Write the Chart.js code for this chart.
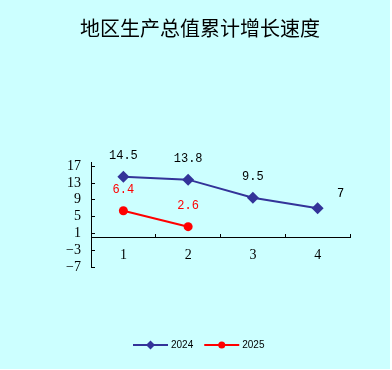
<!DOCTYPE html>
<html>
<head>
<meta charset="utf-8">
<script src="https://cdn.jsdelivr.net/npm/chart.js@4"></script>
<style>
  body { margin: 0; background: #fff; }
  #myChart { display: block; background: #ccffff; }
</style>
</head>
<body>
<canvas id="myChart" width="390" height="369"></canvas>
<script>
var title = "地区生产总值累计增长速度";
var categories = ["1", "2", "3", "4"];
var seriesNames = ["2024", "2025"];
var values2024 = [14.5, 13.8, 9.5, 7];
var values2025 = [6.4, 2.6, null, null];
var yTicks = [-7, -3, 1, 5, 9, 13, 17];

// value labels above the points
var valueLabels = {
    id: "valueLabels",
    afterDatasetsDraw(chart) {
        var ctx = chart.ctx;
        ctx.save();
        ctx.font = "12px 'Liberation Mono'";
        ctx.textAlign = "center";
        ctx.textBaseline = "middle";
        chart.data.datasets.forEach((ds, i) => {
            var meta = chart.getDatasetMeta(i);
            meta.data.forEach((pt, j) => {
                if (ds.data[j] == null) return;
                var dx = 0, dy = -21;
                if (i === 0 && j === 3) { dx = 23; dy = -14; }
                ctx.fillStyle = ds.labelColor;
                ctx.fillText(String(ds.data[j]), pt.x + dx, pt.y + dy);
            });
        });
        ctx.restore();
    }
};

// title + legend with line and marker
var decorations = {
    id: "decorations",
    afterDraw(chart) {
        var ctx = chart.ctx;
        ctx.save();
        ctx.fillStyle = "#000";
        ctx.font = "20px 'Noto Sans CJK SC'";
        ctx.textAlign = "center";
        ctx.textBaseline = "middle";
        ctx.fillText(title, 200, 28);

        var x = 133, y = 345;
        ctx.font = "10px 'Liberation Sans'";
        ctx.textAlign = "left";
        chart.data.datasets.forEach((ds) => {
            ctx.strokeStyle = ds.borderColor;
            ctx.lineWidth = 2;
            ctx.beginPath();
            ctx.moveTo(x, y);
            ctx.lineTo(x + 35, y);
            ctx.stroke();
            ctx.fillStyle = ds.borderColor;
            ctx.beginPath();
            if (ds.pointStyle === "rectRot") {
                ctx.moveTo(x + 17.5, y - 4.5);
                ctx.lineTo(x + 22, y);
                ctx.lineTo(x + 17.5, y + 4.5);
                ctx.lineTo(x + 13, y);
                ctx.closePath();
            } else {
                ctx.arc(x + 17.5, y, 3.5, 0, Math.PI * 2);
            }
            ctx.fill();
            ctx.fillStyle = "#000";
            ctx.fillText(ds.label, x + 38, y);
            x += 38 + ctx.measureText(ds.label).width + 11;
        });
        ctx.restore();
    }
};

function chart() {
    var ctx = document.getElementById("myChart").getContext("2d");
    new Chart(ctx, {
        type: "line",
        data: {
            labels: categories,
            datasets: [{
                label: seriesNames[0],
                data: values2024,
                borderColor: "#333399",
                backgroundColor: "#333399",
                labelColor: "#000",
                borderWidth: 2,
                pointStyle: "rectRot",
                pointRadius: 6,
                pointBorderWidth: 0,
                tension: 0
            }, {
                label: seriesNames[1],
                data: values2025,
                borderColor: "#ff0000",
                backgroundColor: "#ff0000",
                labelColor: "#ff0000",
                borderWidth: 2,
                pointStyle: "circle",
                pointRadius: 4.5,
                pointBorderWidth: 0,
                tension: 0
            }]
        },
        options: {
            responsive: false,
            animation: false,
            layout: { padding: { top: 162, right: 40, bottom: 102, left: 0 } },
            plugins: {
                legend: { display: false },
                tooltip: { enabled: false }
            },
            scales: {
                x: {
                    position: { y: 0 },
                    offset: true,
                    grid: { offset: true, drawOnChartArea: false, tickLength: -4, color: "#000" },
                    border: { color: "#000" },
                    ticks: { color: "#000", padding: 13, font: { family: "Liberation Serif", size: 14 } }
                },
                y: {
                    min: -7,
                    max: 18,
                    afterBuildTicks: (s) => { s.ticks = yTicks.map((v) => ({ value: v })); },
                    afterFit: (s) => { s.width = 91; },
                    grid: { drawOnChartArea: false, tickLength: -4, color: "#000" },
                    border: { color: "#000" },
                    ticks: {
                        autoSkip: false,
                        color: "#000",
                        padding: 14,
                        font: { family: "Liberation Serif", size: 14 },
                        callback: (v) => String(v).replace("-", "\u2212")
                    }
                }
            }
        },
        plugins: [valueLabels, decorations]
    });
}

chart();
</script>
</body>
</html>
